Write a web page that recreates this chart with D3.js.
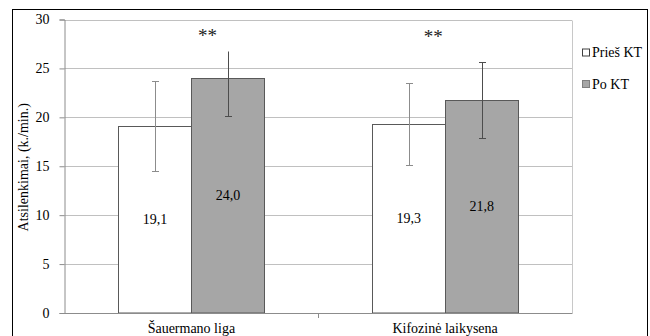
<!DOCTYPE html>
<html>
<head>
<meta charset="utf-8">
<script src="https://cdn.jsdelivr.net/npm/d3@7"></script>
<style>
  html, body { margin: 0; padding: 0; background: #fff; }
  svg { display: block; }
  svg text { font-family: 'Liberation Serif', 'Times New Roman', Times, serif !important; }
</style>
</head>
<body>
<svg id="chart" width="650" height="336"></svg>
<script>
// ---- data ----
const categories = ["Šauermano liga", "Kifozinė laikysena"];
const seriesNames = ["Prieš KT", "Po KT"];
const priesValues = [19.1, 19.3];
const poValues = [24.0, 21.8];
const priesErrUp = [4.6, 4.2];
const priesErrDown = [4.6, 4.2];
const poErrUp = [2.8, 3.9];
const poErrDown = [3.9, 3.9];
const poCapTop = [false, true];
const valueLabels = [["19,1", "19,3"], ["24,0", "21,8"]];
const yTicks = [0, 5, 10, 15, 20, 25, 30];
const annotations = ["**", "**"];
const annotationValue = [28.7, 28.6];

// ---- layout ----
const plot = { left: 64.5, right: 572, top: 19.5, bottom: 313 };
const colors = ["#ffffff", "#a6a6a6"];
const barStroke = ["#595959", "#595959"];
const errColor = ["#8c8c8c", "#4d4d4d"];

const svg = d3.select("#chart");

// outer border
svg.append("rect")
  .attr("x", 12.5).attr("y", 9.5)
  .attr("width", 635).attr("height", 340)
  .attr("fill", "none").attr("stroke", "#000").attr("stroke-width", 1);

const y = d3.scaleLinear().domain([0, 30]).range([plot.bottom, plot.top]);
const x0 = d3.scaleBand().domain(categories).range([plot.left, plot.right]).padding(0);
const barFrac = 146 / 253.75;
const x1 = d3.scaleBand().domain(seriesNames)
  .range([0, x0.bandwidth() * barFrac]).padding(0);
const groupOffset = x0.bandwidth() * (1 - barFrac) / 2;

// gridlines
svg.append("g").selectAll("line").data(yTicks.filter(d => d > 0)).join("line")
  .attr("x1", plot.left).attr("x2", plot.right)
  .attr("y1", d => Math.round(y(d)) + 0.5).attr("y2", d => Math.round(y(d)) + 0.5)
  .attr("stroke", "#c0c0c0").attr("stroke-width", 1);

// plot area right border
svg.append("line")
  .attr("x1", plot.right + 0.5).attr("x2", plot.right + 0.5)
  .attr("y1", Math.round(y(30)) + 0.5).attr("y2", plot.bottom)
  .attr("stroke", "#c8c8c8");

// y axis
const yAxis = d3.axisLeft(y).tickValues(yTicks).tickSize(5).tickPadding(10).tickFormat(d3.format("d"));
const gy = svg.append("g").attr("transform", `translate(${plot.left},0)`).call(yAxis)
  .attr("font-size", 14);
gy.select(".domain").attr("stroke", "#8c8c8c");
gy.selectAll(".tick line").attr("stroke", "#8c8c8c");
gy.selectAll(".tick text").attr("fill", "#000");

// bars
const seriesData = [priesValues, poValues];
seriesNames.forEach((s, si) => {
  svg.append("g").selectAll("rect").data(categories).join("rect")
    .attr("x", (c) => Math.round(x0(c) + groupOffset + x1(s)) + 0.5)
    .attr("width", x1.bandwidth())
    .attr("y", (c, i) => Math.round(y(seriesData[si][i])) + 0.5)
    .attr("height", (c, i) => plot.bottom - Math.round(y(seriesData[si][i])) - 0.5)
    .attr("fill", colors[si]).attr("stroke", barStroke[si]).attr("stroke-width", 1);
});

// x axis
const xAxis = d3.axisBottom(x0).tickSize(0).tickPadding(10);
const gx = svg.append("g").attr("transform", `translate(0,${plot.bottom})`).call(xAxis)
  .attr("font-size", 14);
gx.select(".domain").attr("stroke", "#8c8c8c");
gx.selectAll(".tick text").attr("fill", "#000");
// category boundary ticks
svg.append("g").selectAll("line").data(categories.slice(1)).join("line")
  .attr("x1", c => Math.round(x0(c)) + 0.5).attr("x2", c => Math.round(x0(c)) + 0.5)
  .attr("y1", plot.bottom).attr("y2", plot.bottom + 5)
  .attr("stroke", "#8c8c8c");

// error bars
const errUp = [priesErrUp, poErrUp];
const errDown = [priesErrDown, poErrDown];
const capTop = [[true, true], poCapTop];
seriesNames.forEach((s, si) => {
  const g = svg.append("g").attr("stroke", errColor[si]).attr("stroke-width", 1);
  categories.forEach((c, i) => {
    const cx = Math.round(x0(c) + groupOffset + x1(s) + x1.bandwidth() / 2) + 0.5;
    const v = seriesData[si][i];
    const yt = Math.round(y(v + errUp[si][i])) + 0.5;
    const yb = Math.round(y(v - errDown[si][i])) + 0.5;
    g.append("line").attr("x1", cx).attr("x2", cx).attr("y1", yt).attr("y2", yb);
    if (capTop[si][i]) g.append("line").attr("x1", cx - 3.5).attr("x2", cx + 3.5).attr("y1", yt).attr("y2", yt);
    g.append("line").attr("x1", cx - 3.5).attr("x2", cx + 3.5).attr("y1", yb).attr("y2", yb);
  });
});

// value labels
seriesNames.forEach((s, si) => {
  svg.append("g").selectAll("text").data(categories).join("text")
    .attr("x", c => x0(c) + groupOffset + x1(s) + x1.bandwidth() / 2)
    .attr("y", (c, i) => y(seriesData[si][i] / 2))
    .attr("dy", "0.33em")
    .attr("text-anchor", "middle")
    .attr("font-size", 14)
    .text((c, i) => valueLabels[si][i]);
});

// significance annotations
const annDx = [16, -12];
svg.append("g").selectAll("text").data(categories).join("text")
  .attr("x", (c, i) => x0(c) + x0.bandwidth() / 2 + annDx[i])
  .attr("y", (c, i) => y(annotationValue[i]))
  .attr("dy", "0.5em")
  .attr("text-anchor", "middle")
  .attr("font-size", 19)
  .attr("fill", "#222")
  .text((c, i) => annotations[i]);

// y axis title
svg.append("text")
  .attr("transform", `translate(23,${(plot.top + plot.bottom) / 2 + 1}) rotate(-90)`)
  .attr("text-anchor", "middle")
  .attr("dy", "0.35em")
  .attr("font-size", 14)
  .text("Atsilenkimai, (k./min.)");

// legend
const legend = svg.append("g");
const legendY = [52.5, 84];
seriesNames.forEach((s, si) => {
  legend.append("rect")
    .attr("x", 582.5).attr("y", legendY[si] - 3.5)
    .attr("width", 7).attr("height", 7)
    .attr("fill", colors[si]).attr("stroke", si === 0 ? "#404040" : "#7f7f7f");
  legend.append("text")
    .attr("x", 592).attr("y", legendY[si])
    .attr("dy", "0.33em")
    .attr("font-size", 14)
    .text(s);
});
</script>
</body>
</html>
